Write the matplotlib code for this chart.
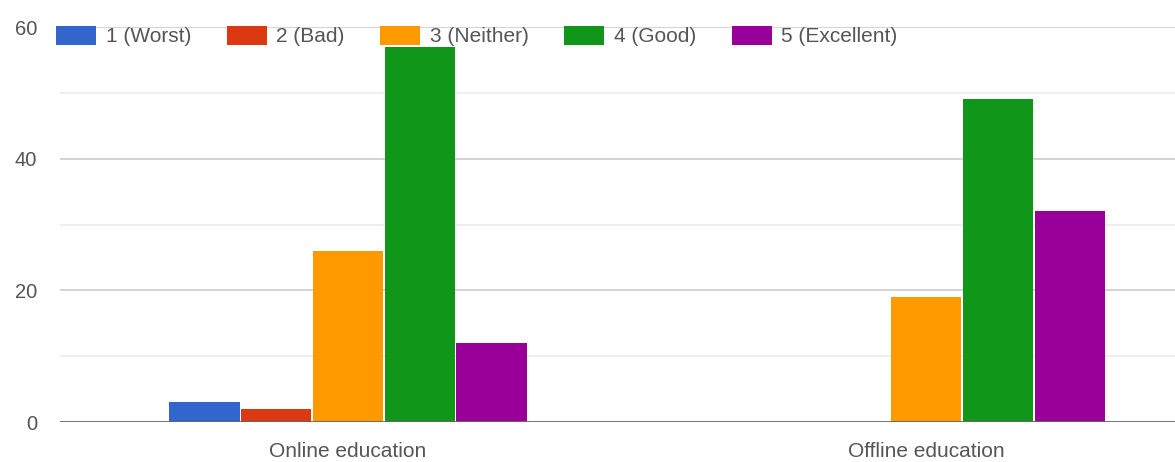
import matplotlib
matplotlib.use("Agg")
import matplotlib.pyplot as plt
import numpy as np

plt.rcParams['font.family'] = ['Liberation Sans', 'DejaVu Sans']

categories = ["Online education", "Offline education"]
series_names = ["1 (Worst)", "2 (Bad)", "3 (Neither)", "4 (Good)", "5 (Excellent)"]
series_values = [
    [3, 0],    # 1 (Worst)
    [2, 0],    # 2 (Bad)
    [26, 19],  # 3 (Neither)
    [57, 49],  # 4 (Good)
    [12, 32],  # 5 (Excellent)
]
colors = ["#3366cc", "#dc3912", "#ff9900", "#109618", "#990099"]
y_ticks = [0, 20, 40, 60]

text_color = "#555555"

fig = plt.figure(figsize=(11.75, 4.62), dpi=100)
ax = fig.add_axes([60 / 1175, 1 - 422 / 462, 1 - 60 / 1175, (422 - 27) / 462])

x = np.arange(len(categories))
bar_w = 0.1215
n = len(series_names)
for i, (name, vals, c) in enumerate(zip(series_names, series_values, colors)):
    offs = (i - (n - 1) / 2) * (bar_w + 0.0025)
    ax.bar(x + offs, vals, width=bar_w, color=c, label=name, zorder=3)

ax.set_xlim(-0.498, 1.43)
ax.set_ylim(0, 60)

# gridlines: major every 20, minor every 10
for v in [10, 30, 50]:
    ax.axhline(v, color="#ebebeb", lw=1.2, zorder=1)
for v in [20, 40, 60]:
    ax.axhline(v, color="#cccccc", lw=1.2, zorder=1)
ax.axhline(0, color="#666666", lw=2, zorder=4)

for s in ax.spines.values():
    s.set_visible(False)

ax.set_yticks(y_ticks)
ax.set_yticklabels([str(v) for v in y_ticks], fontsize=14.5, color=text_color)
ax.tick_params(axis="y", length=0, pad=16.5)
ax.set_xticks(x)
ax.set_xticklabels(categories, fontsize=15, color=text_color)
ax.tick_params(axis="x", length=0, pad=14.5)

leg = fig.legend(loc="center left", bbox_to_anchor=(56 / 1175, 1 - 36 / 462),
                 ncol=5, frameon=False, fontsize=15, borderpad=0, borderaxespad=0,
                 handlelength=1.93, handleheight=1.05, handletextpad=0.46,
                 columnspacing=1.7)
for t in leg.get_texts():
    t.set_color(text_color)

fig.savefig("out.png", dpi=100, facecolor="white")
